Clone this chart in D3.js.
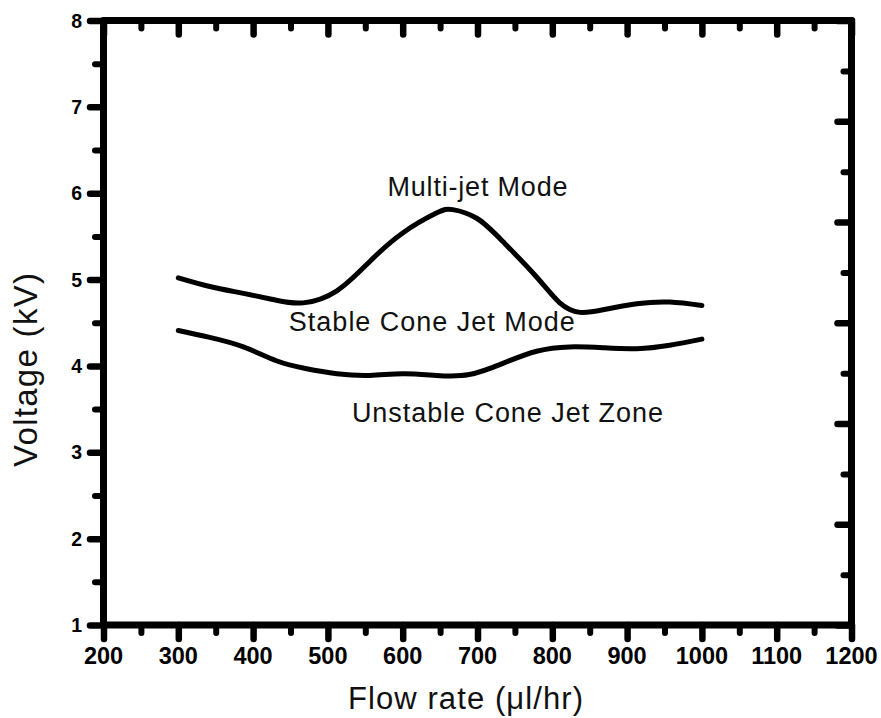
<!DOCTYPE html>
<html>
<head>
<meta charset="utf-8">
<script src="https://d3js.org/d3.v7.min.js"></script>
<style>
  body { margin: 0; background: #fff; }
  svg { display: block; font-family: Arial, "Liberation Sans", sans-serif; }
</style>
</head>
<body>
<div id="chart"></div>
<script>
//// flow rate vs voltage - operating modes of the cone jet

// upper boundary (multi-jet mode above) : flow rate ul/hr, voltage kV
const flowUpper = [300, 342, 387, 431, 467, 512, 556, 600, 645, 667, 699, 734, 779, 810, 837, 868, 913, 957, 1000];
const voltUpper = [5.02, 4.92, 4.84, 4.76, 4.73, 4.87, 5.21, 5.54, 5.77, 5.81, 5.71, 5.44, 5.03, 4.73, 4.62, 4.65, 4.72, 4.74, 4.70];
// lower boundary (unstable cone jet zone below)
const flowLower = [300, 342, 387, 431, 470, 512, 556, 600, 645, 689, 734, 779, 823, 868, 913, 957, 1000];
const voltLower = [4.41, 4.33, 4.22, 4.06, 3.97, 3.91, 3.89, 3.91, 3.89, 3.90, 4.03, 4.17, 4.22, 4.21, 4.20, 4.24, 4.31];

const xTicks = [200, 300, 400, 500, 600, 700, 800, 900, 1000, 1100, 1200];
const xMinor = [250, 350, 450, 550, 650, 750, 850, 950, 1050, 1150];
const yTicks = [1, 2, 3, 4, 5, 6, 7, 8];
const yMinor = [1.5, 2.5, 3.5, 4.5, 5.5, 6.5, 7.5];
// right hand axis has its own spacing (no labels)
const rTicks = [0, 2, 4, 6, 8, 10, 12];
const rMinor = [1, 3, 5, 7, 9, 11];

// mode labels : [text, flow rate, voltage]
const modeLabels = [
  ["Multi-jet Mode", 700, 5.97],
  ["Stable Cone Jet Mode", 639, 4.40],
  ["Unstable Cone Jet Zone", 740, 3.345]
];
const modeWidths = [180, 286, 311];

var margin = {top: 20.5, right: 29.5, bottom: 93, left: 103.5};
var width = 881 - margin.left - margin.right;
var height = 718 - margin.top - margin.bottom;

var svg = d3.select('#chart')
    .append('svg')
      .attr('width', 881)
      .attr('height', 718);

var g = svg.append('g')
      .attr('transform', 'translate(' + margin.left + ',' + margin.top + ')');

let x = d3.scaleLinear().domain([200, 1200]).range([0, width]);
let y = d3.scaleLinear().domain([1, 8]).range([height, 0]);
let yR = d3.scaleLinear().domain([0, 12]).range([height, 0]);

const tickStyle = (sel, sw) => {
  sel.select('.domain').remove();
  sel.selectAll('text').remove();
  sel.selectAll('line')
     .attr('stroke', '#000')
     .attr('stroke-width', sw)
     .attr('stroke-linecap', 'round');
};

///// minor ticks first
g.append('g').attr('transform', 'translate(0,' + height + ')')
  .call(d3.axisBottom(x).tickValues(xMinor).tickSize(8).tickFormat(''))
  .call(s => tickStyle(s, 6));
g.append('g')
  .call(d3.axisBottom(x).tickValues(xMinor).tickSize(8).tickFormat(''))
  .call(s => tickStyle(s, 6));
g.append('g')
  .call(d3.axisLeft(y).tickValues(yMinor).tickSize(8.5).tickFormat(''))
  .call(s => tickStyle(s, 6));
g.append('g').attr('transform', 'translate(' + width + ',0)')
  .call(d3.axisLeft(yR).tickValues(rMinor).tickSize(8).tickFormat(''))
  .call(s => tickStyle(s, 6));

///// major ticks
g.append('g').attr('transform', 'translate(0,' + height + ')')
  .call(d3.axisBottom(x).tickValues(xTicks).tickSize(14).tickSizeOuter(0).tickFormat(''))
  .call(s => tickStyle(s, 6.5));
g.append('g')
  .call(d3.axisLeft(y).tickValues(yTicks).tickSize(13.5).tickSizeOuter(0).tickFormat(''))
  .call(s => tickStyle(s, 6.5));
g.append('g')
  .call(d3.axisBottom(x).tickValues(xTicks).tickSize(14).tickFormat(''))
  .call(s => tickStyle(s, 6.5));
g.append('g').attr('transform', 'translate(' + width + ',0)')
  .call(d3.axisLeft(yR).tickValues(rTicks).tickSize(14).tickFormat(''))
  .call(s => tickStyle(s, 6.5));

///// frame
g.append('rect')
  .attr('x', 0).attr('y', 0)
  .attr('width', width).attr('height', height)
  .attr('fill', 'none')
  .attr('stroke', '#000')
  .attr('stroke-width', 7)
  .attr('stroke-linejoin', 'round');

///// tick labels
svg.append('g').attr('class', 'xlabels').selectAll('text')
  .data(xTicks)
  .enter()
  .append('text')
    .attr('x', d => margin.left + x(d))
    .attr('y', margin.top + height + 39)
    .attr('text-anchor', 'middle')
    .attr('font-size', 23.5)
    .attr('font-weight', 'bold')
    .attr('fill', '#000')
    .text(d => d);

svg.append('g').attr('class', 'ylabels').selectAll('text')
  .data(yTicks)
  .enter()
  .append('text')
    .attr('x', margin.left - 21.5)
    .attr('y', d => margin.top + y(d) + 7)
    .attr('text-anchor', 'end')
    .attr('font-size', 19.5)
    .attr('font-weight', 'bold')
    .attr('fill', '#000')
    .text(d => String(d));

///// boundary curves
var line = d3.line()
  .x(d => x(d[0]))
  .y(d => y(d[1]))
  .curve(d3.curveNatural);

[d3.zip(flowUpper, voltUpper), d3.zip(flowLower, voltLower)].forEach(series => {
  g.append('path')
    .datum(series)
    .attr('d', line)
    .attr('fill', 'none')
    .attr('stroke', '#000')
    .attr('stroke-width', 5)
    .attr('stroke-linecap', 'round')
    .attr('stroke-linejoin', 'round');
});

///// mode labels
g.selectAll('.modelabel')
  .data(modeLabels)
  .enter()
  .append('text')
    .attr('class', 'modelabel')
    .attr('x', d => x(d[1]))
    .attr('y', d => y(d[2]))
    .attr('text-anchor', 'middle')
    .attr('textLength', (d, i) => modeWidths[i])
    .attr('lengthAdjust', 'spacing')
    .attr('font-size', 27)
    .attr('fill', '#111')
    .text(d => d[0]);

///// axis titles
svg.append('text')
  .attr('x', 465.5)
  .attr('y', 709)
  .attr('text-anchor', 'middle')
  .attr('textLength', 235)
  .attr('lengthAdjust', 'spacing')
  .attr('font-size', 31)
  .attr('fill', '#111')
  .text('Flow rate (\u03bcl/hr)');

svg.append('text')
  .attr('transform', 'translate(37,370) rotate(-90)')
  .attr('text-anchor', 'middle')
  .attr('textLength', 194)
  .attr('lengthAdjust', 'spacing')
  .attr('font-size', 33)
  .attr('fill', '#111')
  .text('Voltage (kV)');
</script>
</body>
</html>
